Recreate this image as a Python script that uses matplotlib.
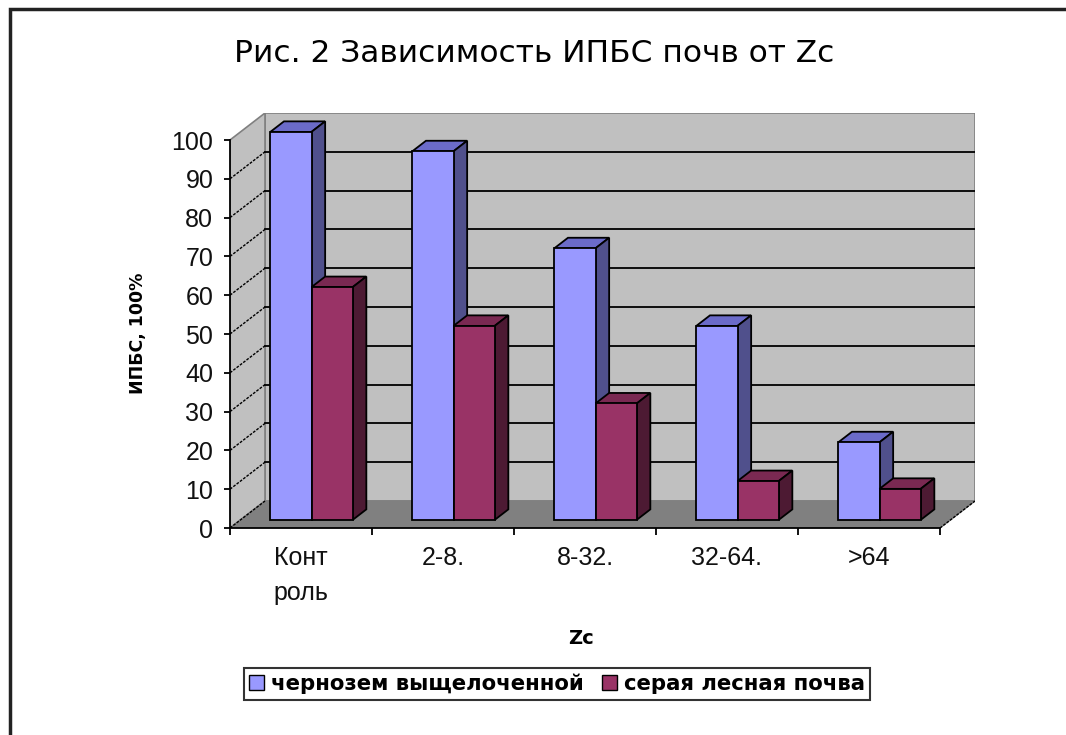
import matplotlib
matplotlib.use('Agg')
import matplotlib.pyplot as plt
from matplotlib.patches import Polygon, Patch, Rectangle

plt.rcParams['font.family'] = ['Liberation Sans', 'DejaVu Sans']

# data
categories = ['Конт\nроль', '2-8.', '8-32.', '32-64.', '>64']
chernozem = [100, 95, 70, 50, 20]
gray_forest = [60, 50, 30, 10, 8]
series_names = ['чернозем выщелоченной', 'серая лесная почва']
yticks = list(range(0, 101, 10))

# pseudo-3d geometry (in data units)
DX, DY = 0.2465, 6.96      # depth of the plot box
F0, FD = 0.30, 0.39        # bar front plane / bar depth as fraction of box depth
W = 0.29                   # bar width
n = len(categories)

colors = {
    'blue': ('#9999FF', '#6B6BC9', '#50508C'),
    'red': ('#993366', '#7A2952', '#4D1A33'),
}

fig = plt.figure(figsize=(10.66, 7.35), dpi=100)
W_PX, H_PX = 1066, 735

ax = fig.add_axes([230 / W_PX, (H_PX - 528) / H_PX,
                   (n + DX) * 142 / W_PX, (100 + DY) * 3.88 / H_PX])
ax.set_xlim(0, n + DX)
ax.set_ylim(0, 100 + DY)
ax.patch.set_visible(False)

# walls and floor
ax.add_patch(Polygon([(DX, DY), (n + DX, DY), (n + DX, 100 + DY), (DX, 100 + DY)],
                     closed=True, fc='#C0C0C0', ec='#808080', lw=1.2, zorder=0))
ax.add_patch(Polygon([(0, 0), (DX, DY), (DX, 100 + DY), (0, 100)],
                     closed=True, fc='#C0C0C0', ec='#808080', lw=1.2, zorder=0))
ax.add_patch(Polygon([(0, 0), (n, 0), (n + DX, DY), (DX, DY)],
                     closed=True, fc='#808080', ec='#808080', lw=1, zorder=0.5))
ax.plot([n, n + DX], [0, DY], color='black', lw=1, ls=(0, (2, 1)), zorder=0.6)

# gridlines on the walls
for v in yticks[1:-1]:
    ax.plot([DX, n + DX], [v + DY, v + DY], color='black', lw=1.3, zorder=1)
    ax.plot([0, DX], [v, v + DY], color='black', lw=1, ls=(0, (2, 1)), zorder=1)
ax.plot([0, DX], [0, DY], color='black', lw=1, ls=(0, (2, 1)), zorder=1)


def draw_bar(x0, h, cols, z):
    front, top, side = cols
    bx, by = x0 + F0 * DX, F0 * DY
    ddx, ddy = FD * DX, FD * DY
    ax.add_patch(Polygon([(bx, by + h), (bx + W, by + h), (bx + W + ddx, by + h + ddy),
                          (bx + ddx, by + h + ddy)], closed=True, fc=top, ec='black',
                         lw=1.3, zorder=z, clip_on=False))
    ax.add_patch(Polygon([(bx + W, by), (bx + W + ddx, by + ddy), (bx + W + ddx, by + h + ddy),
                          (bx + W, by + h)], closed=True, fc=side, ec='black',
                         lw=1.3, zorder=z, clip_on=False))
    ax.bar(bx, h, width=W, bottom=by, align='edge', color=front, edgecolor='black',
           linewidth=1.3, zorder=z + 0.1)


z = 3
for i in range(n):
    c = i + 0.5
    draw_bar(c - W, chernozem[i], colors['blue'], z)
    z += 1
    draw_bar(c, gray_forest[i], colors['red'], z)
    z += 1

# axes
for s in ['top', 'right']:
    ax.spines[s].set_visible(False)
ax.spines['left'].set_bounds(0, 100)
ax.spines['bottom'].set_bounds(0, n)
ax.spines['left'].set_zorder(50)
ax.spines['bottom'].set_zorder(50)
ax.spines['left'].set_linewidth(1.3)
ax.spines['bottom'].set_linewidth(1.3)
ax.set_yticks(yticks)
ax.set_yticklabels([str(v) for v in yticks], fontsize=18, color='#111111')
ax.tick_params(axis='y', direction='out', length=4, width=1.3, pad=8)
ax.set_xticks(range(n + 1))
ax.set_xticklabels([''] * (n + 1))
ax.tick_params(axis='x', which='major', direction='out', length=5, width=1.3)
ax.set_xticks([i + 0.5 for i in range(n)], minor=True)
ax.set_xticklabels(categories, minor=True, fontsize=18, color='#111111',
                   linespacing=1.6, multialignment='center')
ax.tick_params(axis='x', which='minor', length=0, pad=13)

# texts
fig.text(534 / W_PX, 1 - 53 / H_PX, 'Рис. 2 Зависимость ИПБС почв от Zc',
         ha='center', va='center', fontsize=22.5, family='DejaVu Sans')
fig.text(138 / W_PX, 1 - 333 / H_PX, 'ИПБС, 100%', rotation=90, ha='center', va='center',
         fontsize=12.5, fontweight='bold', family='DejaVu Sans')
fig.text(581 / W_PX, 1 - 638 / H_PX, 'Zc', ha='center', va='center',
         fontsize=14, fontweight='bold', family='DejaVu Sans')

handles = [Patch(facecolor=colors['blue'][0], edgecolor='black', lw=1),
           Patch(facecolor=colors['red'][0], edgecolor='black', lw=1)]
leg = fig.legend(handles, series_names, loc='center', ncol=2,
                 bbox_to_anchor=(557 / W_PX, 1 - 684 / H_PX),
                 prop={'size': 15.3, 'weight': 'bold', 'family': 'DejaVu Sans'},
                 frameon=True, fancybox=False,
                 edgecolor='black', handlelength=0.7, handleheight=0.7,
                 handletextpad=0.3, columnspacing=0.9, borderpad=0.25,
                 borderaxespad=0)
leg.get_frame().set_linewidth(1.5)

# outer chart border
fig.add_artist(Rectangle((10 / W_PX, -0.05), 1.1, 1 - 9 / H_PX + 0.05,
                         transform=fig.transFigure, fill=False, ec='#222222', lw=2.5))

fig.savefig('out.png', dpi=100)
